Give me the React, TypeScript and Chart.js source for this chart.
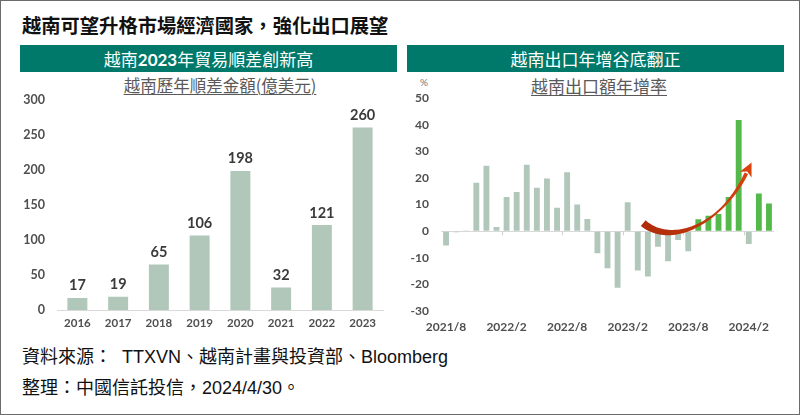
import React, { useEffect, useRef } from "react";
import { Chart, registerables } from "chart.js";

Chart.register(...registerables);

// ---------- data ----------
const years = ["2016", "2017", "2018", "2019", "2020", "2021", "2022", "2023"];
const surplus = [17, 19, 65, 106, 198, 32, 121, 260];
const surplusMin = 0;
const surplusMax = 300;
const surplusStep = 50;

const months = [
  "2021/8", "2021/9", "2021/10", "2021/11", "2021/12",
  "2022/1", "2022/2", "2022/3", "2022/4", "2022/5", "2022/6", "2022/7", "2022/8", "2022/9", "2022/10", "2022/11", "2022/12",
  "2023/1", "2023/2", "2023/3", "2023/4", "2023/5", "2023/6", "2023/7", "2023/8", "2023/9", "2023/10", "2023/11", "2023/12",
  "2024/1", "2024/2", "2024/3", "2024/4",
];
const exportGrowth = [
  -5.4, -0.4, 0.3, 18.2, 24.6,
  1.6, 12.9, 14.7, 25.0, 16.3, 19.8, 8.8, 22.2, 10.0, 4.6, -8.3, -13.9,
  -21.3, 10.9, -14.8, -17.0, -5.8, -11.3, -3.3, -7.5, 4.5, 5.8, 6.5, 12.9,
  41.8, -4.8, 14.2, 10.4,
];
const growthMin = -30;
const growthMax = 50;
const growthStep = 10;
const growthLabelEvery = 6;
const recoveryStart = "2023/9";

const GRAY_BAR = "#B0C7BA";
const GREEN_BAR = "#55B84A";
const TICK_COLOR = "#4f4f4f";
const TICK_FONT = "Lato, 'Noto Sans CJK TC', sans-serif";

// ---------- plugins ----------
const valueLabels = {
  id: "valueLabels",
  afterDatasetsDraw(chart: any) {
    const { ctx } = chart;
    const meta = chart.getDatasetMeta(0);
    const data = chart.data.datasets[0].data;
    ctx.save();
    ctx.font = "bold 14.5px " + TICK_FONT;
    ctx.fillStyle = "#3a3a3a";
    ctx.textAlign = "center";
    ctx.textBaseline = "bottom";
    meta.data.forEach((el: any, i: number) => {
      ctx.fillText(String(data[i]), el.x, el.y - 5);
    });
    ctx.restore();
  },
};

// turnaround arrow, defined in data space (category index, % value)
const arrowPath = [
  [19.54, 3.0],
  [22.42, -6.0],
  [27.38, 3.0],
  [29.76, 21.8],
];

const growthDecor = {
  id: "growthDecor",
  afterDatasetsDraw(chart: any) {
    const { ctx } = chart;
    const xs = chart.scales.x;
    const ys = chart.scales.y;
    const y0 = ys.getPixelForValue(0);
    ctx.save();
    ctx.strokeStyle = "#cfcfcf";
    ctx.lineWidth = 1;
    for (let i = growthLabelEvery; i < months.length; i += growthLabelEvery) {
      const x = (xs.getPixelForValue(i - 1) + xs.getPixelForValue(i)) / 2;
      ctx.beginPath();
      ctx.moveTo(Math.round(x) + 0.5, y0);
      ctx.lineTo(Math.round(x) + 0.5, y0 + 4);
      ctx.stroke();
    }
    const P = arrowPath.map(([i, v]) => [xs.getPixelForValue(i), ys.getPixelForValue(v)]);
    const bez = (t: number) => {
      const u = 1 - t;
      const a = u * u * u, b = 3 * u * u * t, c = 3 * u * t * t, d = t * t * t;
      return [
        a * P[0][0] + b * P[1][0] + c * P[2][0] + d * P[3][0],
        a * P[0][1] + b * P[1][1] + c * P[2][1] + d * P[3][1],
      ];
    };
    const der = (t: number) => {
      const u = 1 - t;
      return [
        3 * u * u * (P[1][0] - P[0][0]) + 6 * u * t * (P[2][0] - P[1][0]) + 3 * t * t * (P[3][0] - P[2][0]),
        3 * u * u * (P[1][1] - P[0][1]) + 6 * u * t * (P[2][1] - P[1][1]) + 3 * t * t * (P[3][1] - P[2][1]),
      ];
    };
    const widthAt = (t: number) => {
      const pts = [[0, 7.5], [0.3, 5], [0.55, 2.6], [0.72, 2], [0.9, 3.2], [1, 3.8]];
      for (let k = 0; k < pts.length - 1; k++) {
        if (t <= pts[k + 1][0]) {
          const f = (t - pts[k][0]) / (pts[k + 1][0] - pts[k][0]);
          return pts[k][1] + f * (pts[k + 1][1] - pts[k][1]);
        }
      }
      return pts[pts.length - 1][1];
    };
    const N = 48;
    const left: number[][] = [];
    const right: number[][] = [];
    for (let k = 0; k <= N; k++) {
      const t = k / N;
      const p = bez(t);
      const d = der(t);
      const len = Math.hypot(d[0], d[1]) || 1;
      const nx = -d[1] / len, ny = d[0] / len;
      const w = widthAt(t) / 2;
      left.push([p[0] + nx * w, p[1] + ny * w]);
      right.push([p[0] - nx * w, p[1] - ny * w]);
    }
    const end = bez(1);
    const dEnd = der(1);
    const dl = Math.hypot(dEnd[0], dEnd[1]) || 1;
    const ux = dEnd[0] / dl, uy = dEnd[1] / dl;
    const tip = [end[0] + ux * 12, end[1] + uy * 12];
    const grad = ctx.createLinearGradient(P[0][0], P[0][1], tip[0], tip[1]);
    grad.addColorStop(0, "#B02D0A");
    grad.addColorStop(1, "#DA4410");
    ctx.fillStyle = grad;
    ctx.beginPath();
    left.forEach((p, k) => (k === 0 ? ctx.moveTo(p[0], p[1]) : ctx.lineTo(p[0], p[1])));
    for (let k = right.length - 1; k >= 0; k--) ctx.lineTo(right[k][0], right[k][1]);
    ctx.closePath();
    ctx.fill();
    const hw = 6.5;
    ctx.beginPath();
    ctx.moveTo(tip[0], tip[1]);
    ctx.lineTo(end[0] - uy * hw - ux * 1.5, end[1] + ux * hw - uy * 1.5);
    ctx.lineTo(end[0] + ux * 2, end[1] + uy * 2);
    ctx.lineTo(end[0] + uy * hw - ux * 1.5, end[1] - ux * hw - uy * 1.5);
    ctx.closePath();
    ctx.fill();
    ctx.restore();
  },
};

// ---------- chart configs ----------
function surplusConfig(): any {
  return {
    type: "bar",
    data: {
      labels: years,
      datasets: [
        {
          data: surplus,
          backgroundColor: GRAY_BAR,
          categoryPercentage: 1,
          barPercentage: 0.49,
        },
      ],
    },
    options: {
      responsive: false,
      animation: false,
      events: [],
      layout: { padding: { top: 0, right: 10, left: 0, bottom: 0 } },
      plugins: { legend: { display: false }, tooltip: { enabled: false }, title: { display: false } },
      scales: {
        x: {
          grid: { display: false, drawTicks: false },
          border: { display: true, color: "#d9d9d9", width: 1 },
          ticks: { color: TICK_COLOR, font: { family: TICK_FONT, size: 11.5, weight: "bold" }, padding: 6, maxRotation: 0 },
          afterFit: (s: any) => { s.height = 31; },
        },
        y: {
          min: surplusMin,
          max: surplusMax,
          grid: { display: false, drawTicks: false },
          border: { display: false },
          ticks: { stepSize: surplusStep, color: TICK_COLOR, font: { family: TICK_FONT, size: 12.5, weight: "bold" }, padding: 12 },
          afterFit: (s: any) => { s.width = 36; },
        },
      },
    },
    plugins: [valueLabels],
  };
}

function growthConfig(): any {
  const startIdx = months.indexOf(recoveryStart);
  return {
    type: "bar",
    data: {
      labels: months,
      datasets: [
        {
          data: exportGrowth,
          backgroundColor: (c: any) => {
            const v = exportGrowth[c.dataIndex];
            return c.dataIndex >= startIdx && v > 0 ? GREEN_BAR : GRAY_BAR;
          },
          categoryPercentage: 1,
          barPercentage: 0.58,
        },
      ],
    },
    options: {
      responsive: false,
      animation: false,
      events: [],
      layout: { padding: { top: 0, right: 13, left: 0, bottom: 0 } },
      plugins: { legend: { display: false }, tooltip: { enabled: false }, title: { display: false } },
      scales: {
        x: {
          grid: { display: false, drawTicks: false },
          border: { display: false },
          ticks: {
            autoSkip: false,
            maxRotation: 0,
            color: TICK_COLOR,
            font: { family: TICK_FONT, size: 12, weight: "bold" },
            padding: 9,
            callback: (_v: any, i: number) => (i % growthLabelEvery === 0 ? months[i] : ""),
          },
          afterFit: (s: any) => { s.height = 30; },
        },
        y: {
          min: growthMin,
          max: growthMax,
          grid: {
            drawTicks: false,
            color: (c: any) => (c.tick && c.tick.value === 0 ? "#d9d9d9" : "rgba(0,0,0,0)"),
          },
          border: { display: false },
          ticks: { stepSize: growthStep, color: TICK_COLOR, font: { family: TICK_FONT, size: 12, weight: "bold" }, padding: 12 },
          afterFit: (s: any) => { s.width = 34; },
        },
      },
    },
    plugins: [growthDecor],
  };
}

function ChartBox(props: { make: () => any; left: number; top: number; width: number; height: number }) {
  const ref = useRef<HTMLCanvasElement>(null);
  useEffect(() => {
    const chart = new Chart(ref.current as HTMLCanvasElement, props.make());
    let alive = true;
    if ((document as any).fonts && (document as any).fonts.ready) {
      (document as any).fonts.ready.then(() => { if (alive) chart.update(); });
    }
    return () => { alive = false; chart.destroy(); };
  }, []);
  return (
    <canvas
      ref={ref}
      width={props.width}
      height={props.height}
      style={{ position: "absolute", left: props.left, top: props.top, width: props.width, height: props.height }}
    />
  );
}

const CJK = "'Noto Sans CJK TC', 'Noto Sans', sans-serif";
const FOOT = "'Liberation Sans', 'Noto Sans CJK TC', sans-serif";

export default function App() {
  const band: React.CSSProperties = {
    position: "absolute",
    top: 44,
    height: 27,
    width: 377,
    background: "#00796B",
    color: "#fff",
    fontSize: 17,
    lineHeight: "27px",
    textAlign: "center",
    fontFamily: CJK,
    whiteSpace: "nowrap",
  };
  const sub: React.CSSProperties = {
    position: "absolute",
    color: "#595959",
    textDecoration: "underline",
    textDecorationThickness: 1,
    textUnderlineOffset: 2,
    fontFamily: CJK,
    textAlign: "center",
    whiteSpace: "nowrap",
  };
  const foot: React.CSSProperties = {
    position: "absolute",
    left: 21,
    fontSize: 18,
    lineHeight: "20px",
    color: "#111",
    whiteSpace: "pre",
    fontFamily: FOOT,
  };
  return (
    <div
      style={{
        position: "absolute",
        left: 0,
        top: 0,
        width: 800,
        height: 415,
        boxSizing: "border-box",
        border: "1px solid #6b6b6b",
        background: "#fff",
        overflow: "hidden",
        fontFamily: CJK,
      }}
    >
      <div style={{ position: "absolute", left: 21, top: 14, fontSize: 19.3, lineHeight: "20px", fontWeight: 700, color: "#111", whiteSpace: "nowrap" }}>
        越南可望升格市場經濟國家，強化出口展望
      </div>

      <div style={{ ...band, left: 19 }}>
        越南<span style={{ fontWeight: 700, fontFamily: "Lato, " + CJK }}>2023</span>年貿易順差創新高
      </div>
      <div style={{ ...band, left: 406 }}>越南出口年增谷底翻正</div>

      <div style={{ ...sub, left: 56, width: 326, top: 75, fontSize: 16.5, lineHeight: "18px" }}>越南歷年順差金額(億美元)</div>
      <div style={{ ...sub, left: 498, width: 200, top: 76, fontSize: 17, lineHeight: "18px" }}>越南出口額年增率</div>
      <div style={{ position: "absolute", left: 419, top: 75, fontSize: 10, lineHeight: "12px", color: "#777", fontFamily: "Lato, sans-serif" }}>%</div>

      <ChartBox make={surplusConfig} left={20} top={79} width={372} height={261} />
      <ChartBox make={growthConfig} left={406} top={78} width={380} height={262} />

      <div style={{ ...foot, top: 346 }}>{"資料來源：  TTXVN、越南計畫與投資部、Bloomberg"}</div>
      <div style={{ ...foot, top: 377 }}>{"整理：中國信託投信，2024/4/30。"}</div>
    </div>
  );
}
